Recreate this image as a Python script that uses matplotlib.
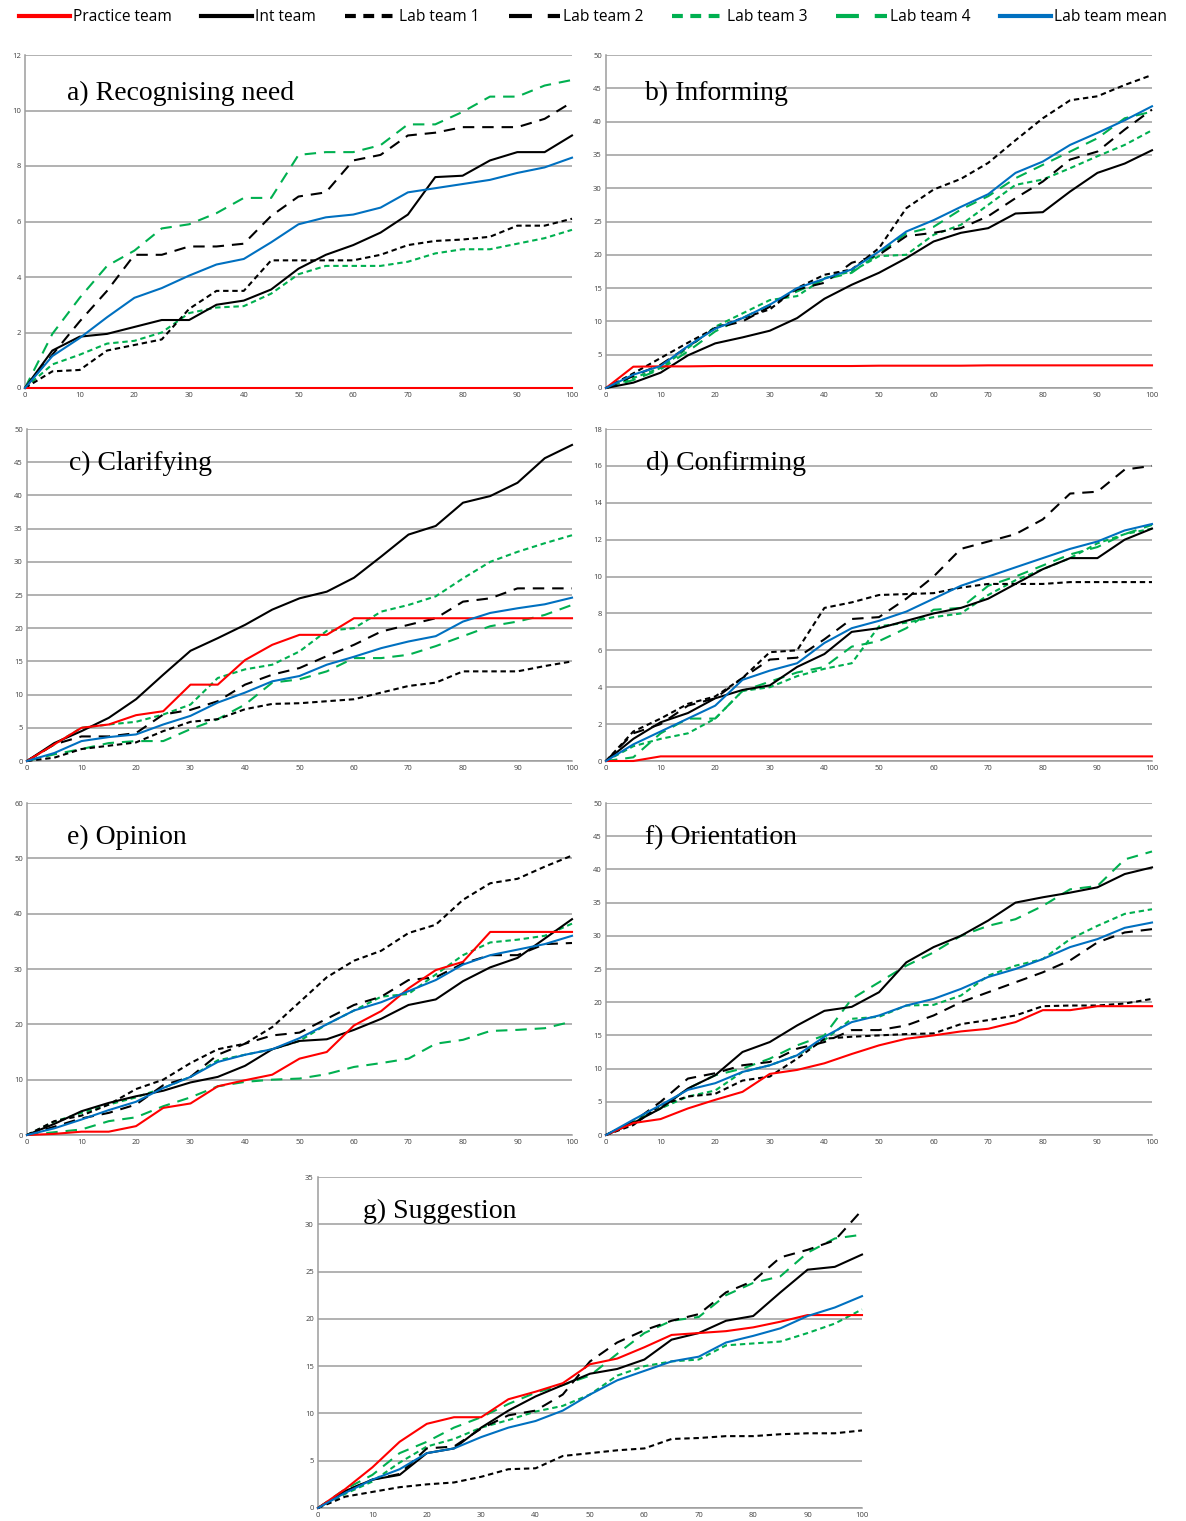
import matplotlib
matplotlib.use("Agg")
import matplotlib.pyplot as plt
from matplotlib.lines import Line2D

# Percentage of session time (x) and cumulative counts per team (y)
x_pct = [0, 5, 10, 15, 20, 25, 30, 35, 40, 45, 50, 55, 60, 65, 70, 75, 80, 85, 90, 95, 100]

series_names = ["Practice team", "Int team", "Lab team 1", "Lab team 2",
                "Lab team 3", "Lab team 4", "Lab team mean"]

# a) Recognising need
a_practice = [0] * 21
a_int = [0, 1.35, 1.85, 1.95, 2.2, 2.45, 2.45, 3.0, 3.15, 3.55, 4.3, 4.8, 5.15, 5.6, 6.25, 7.6, 7.65, 8.2, 8.5, 8.5, 9.1]
a_lab1 = [0, 0.6, 0.65, 1.35, 1.55, 1.75, 2.85, 3.5, 3.5, 4.6, 4.6, 4.6, 4.6, 4.8, 5.15, 5.3, 5.35, 5.45, 5.85, 5.85, 6.1]
a_lab2 = [0, 1.2, 2.4, 3.5, 4.8, 4.8, 5.1, 5.1, 5.2, 6.2, 6.9, 7.05, 8.2, 8.4, 9.1, 9.2, 9.4, 9.4, 9.4, 9.7, 10.3]
a_lab3 = [0, 0.85, 1.2, 1.6, 1.7, 2.0, 2.7, 2.9, 2.95, 3.4, 4.1, 4.4, 4.4, 4.4, 4.55, 4.85, 5.0, 5.0, 5.2, 5.4, 5.7]
a_lab4 = [0, 1.95, 3.25, 4.4, 4.95, 5.75, 5.9, 6.3, 6.85, 6.85, 8.4, 8.5, 8.5, 8.75, 9.5, 9.5, 9.95, 10.5, 10.5, 10.9, 11.1]
a_mean = [0, 1.15, 1.8, 2.55, 3.25, 3.6, 4.05, 4.45, 4.65, 5.25, 5.9, 6.15, 6.25, 6.5, 7.05, 7.2, 7.35, 7.5, 7.75, 7.95, 8.3]

# b) Informing
b_practice = [0, 3.2, 3.25, 3.25, 3.3, 3.3, 3.3, 3.3, 3.3, 3.3, 3.35, 3.35, 3.35, 3.35, 3.4, 3.4, 3.4, 3.4, 3.4, 3.4, 3.4]
b_int = [0, 0.8, 2.3, 4.9, 6.7, 7.6, 8.6, 10.5, 13.4, 15.5, 17.3, 19.5, 22.0, 23.3, 24.0, 26.2, 26.4, 29.5, 32.3, 33.7, 35.7]
b_lab1 = [0, 2.2, 4.5, 6.8, 9.0, 10.5, 11.8, 15.0, 17.0, 17.8, 21.0, 27.0, 29.8, 31.4, 33.8, 37.2, 40.5, 43.2, 43.8, 45.5, 47.0]
b_lab2 = [0, 1.8, 3.5, 6.2, 9.0, 10.0, 12.2, 14.8, 15.8, 18.8, 20.0, 22.8, 23.3, 24.0, 25.8, 28.5, 31.0, 34.3, 35.5, 38.8, 41.8]
b_lab3 = [0, 1.5, 3.0, 6.0, 9.2, 11.2, 13.2, 13.8, 16.5, 17.5, 19.8, 20.0, 23.0, 24.5, 27.5, 30.5, 31.3, 33.0, 34.8, 36.5, 38.7]
b_lab4 = [0, 1.2, 2.8, 5.5, 8.5, 10.5, 12.5, 14.5, 16.3, 17.3, 20.2, 23.2, 24.2, 26.8, 28.8, 31.5, 33.5, 35.5, 37.5, 40.5, 41.5]
b_mean = [0, 2.0, 3.3, 6.3, 8.9, 10.5, 12.5, 15.0, 16.4, 17.8, 20.5, 23.5, 25.2, 27.2, 29.1, 32.3, 34.0, 36.5, 38.3, 40.2, 42.3]

# c) Clarifying
c_practice = [0, 2.5, 5.0, 5.5, 6.9, 7.5, 11.5, 11.5, 15.2, 17.5, 19.0, 19.0, 21.5, 21.5, 21.5, 21.5, 21.5, 21.5, 21.5, 21.5, 21.5]
c_int = [0, 2.7, 4.5, 6.5, 9.3, 13.0, 16.6, 18.5, 20.5, 22.8, 24.5, 25.5, 27.6, 30.8, 34.1, 35.4, 38.9, 39.9, 41.9, 45.6, 47.6]
c_lab1 = [0, 0.5, 1.8, 2.3, 2.8, 4.5, 5.9, 6.3, 7.8, 8.6, 8.7, 9.0, 9.3, 10.3, 11.3, 11.8, 13.5, 13.5, 13.5, 14.3, 15.0]
c_lab2 = [0, 2.5, 3.7, 3.7, 4.2, 7.0, 7.7, 9.0, 11.5, 13.0, 14.0, 15.8, 17.5, 19.5, 20.5, 21.5, 24.0, 24.5, 26.0, 26.0, 26.0]
c_lab3 = [0, 2.5, 5.0, 5.5, 5.9, 7.0, 8.5, 12.5, 13.8, 14.5, 16.5, 19.6, 20.0, 22.5, 23.5, 24.8, 27.5, 30.0, 31.5, 32.8, 34.0]
c_lab4 = [0, 1.0, 1.8, 2.7, 3.0, 3.0, 4.8, 6.3, 8.5, 11.8, 12.3, 13.5, 15.5, 15.5, 16.0, 17.3, 18.8, 20.3, 21.0, 22.0, 23.5]
c_mean = [0, 1.2, 3.0, 3.6, 4.0, 5.5, 6.8, 8.8, 10.3, 12.0, 12.8, 14.5, 15.7, 17.0, 18.0, 18.8, 21.0, 22.3, 23.0, 23.6, 24.6]

# d) Confirming
d_practice = [0, 0, 0.25, 0.25, 0.25, 0.25, 0.25, 0.25, 0.25, 0.25, 0.25, 0.25, 0.25, 0.25, 0.25, 0.25, 0.25, 0.25, 0.25, 0.25, 0.25]
d_int = [0, 1.2, 2.1, 2.6, 3.4, 3.85, 4.1, 5.1, 5.8, 7.0, 7.2, 7.6, 8.0, 8.3, 8.8, 9.6, 10.4, 11.0, 11.0, 12.0, 12.6]
d_lab1 = [0, 1.6, 2.3, 3.1, 3.5, 4.5, 5.9, 6.0, 8.3, 8.6, 9.0, 9.05, 9.1, 9.4, 9.6, 9.6, 9.6, 9.7, 9.7, 9.7, 9.7]
d_lab2 = [0, 1.5, 2.0, 3.0, 3.4, 4.5, 5.5, 5.6, 6.6, 7.7, 7.8, 8.8, 10.0, 11.5, 11.9, 12.3, 13.1, 14.5, 14.6, 15.8, 16.0]
d_lab3 = [0, 0.8, 1.2, 1.5, 2.3, 3.8, 4.0, 4.6, 5.0, 5.3, 7.3, 7.5, 7.8, 8.0, 9.0, 9.8, 10.4, 11.0, 11.8, 12.3, 12.6]
d_lab4 = [0, 0.2, 1.5, 2.3, 2.3, 3.8, 4.3, 4.8, 5.1, 6.2, 6.5, 7.2, 8.2, 8.3, 9.5, 10.0, 10.6, 11.2, 11.6, 12.3, 12.8]
d_mean = [0, 0.9, 1.6, 2.3, 3.0, 4.4, 4.9, 5.3, 6.4, 7.2, 7.6, 8.1, 8.8, 9.5, 10.0, 10.5, 11.0, 11.5, 11.9, 12.5, 12.85]

# e) Opinion
e_practice = [0, 0.2, 0.6, 0.6, 1.6, 4.9, 5.7, 8.8, 9.9, 10.9, 13.8, 15.0, 19.8, 22.4, 26.5, 29.8, 31.3, 36.7, 36.7, 36.7, 36.7]
e_int = [0, 2.0, 4.3, 5.8, 7.0, 8.0, 9.5, 10.5, 12.5, 15.5, 17.0, 17.3, 19.0, 21.0, 23.5, 24.5, 27.8, 30.3, 32.0, 35.5, 39.0]
e_lab1 = [0, 2.5, 3.5, 5.5, 8.3, 10.0, 13.0, 15.5, 16.5, 19.5, 24.0, 28.5, 31.5, 33.3, 36.5, 38.0, 42.5, 45.5, 46.3, 48.5, 50.5]
e_lab2 = [0, 1.5, 3.0, 4.0, 5.5, 9.0, 10.5, 14.5, 16.5, 18.0, 18.5, 21.0, 23.5, 25.0, 28.0, 28.5, 31.0, 32.5, 32.5, 34.5, 34.7]
e_lab3 = [0, 2.4, 4.0, 5.5, 6.8, 8.5, 10.5, 13.5, 14.5, 15.5, 17.0, 20.0, 22.5, 25.0, 25.5, 29.0, 32.5, 34.8, 35.3, 36.0, 38.2]
e_lab4 = [0, 0.5, 1.0, 2.5, 3.2, 5.2, 6.8, 8.8, 9.6, 10.0, 10.2, 11.0, 12.3, 13.0, 13.8, 16.5, 17.2, 18.8, 19.0, 19.3, 20.5]
e_mean = [0, 1.2, 2.8, 4.5, 6.0, 8.5, 10.5, 13.2, 14.5, 15.5, 17.5, 20.0, 22.5, 24.0, 26.0, 28.0, 30.8, 32.5, 33.5, 34.5, 36.0]

# f) Orientation
f_practice = [0, 1.8, 2.4, 4.0, 5.3, 6.5, 9.2, 9.8, 10.8, 12.2, 13.5, 14.5, 15.0, 15.6, 16.0, 17.0, 18.8, 18.8, 19.4, 19.4, 19.4]
f_int = [0, 1.8, 4.0, 7.0, 9.0, 12.5, 14.0, 16.5, 18.7, 19.3, 21.5, 26.0, 28.3, 30.0, 32.3, 35.0, 35.8, 36.5, 37.3, 39.3, 40.3]
f_lab1 = [0, 1.5, 4.5, 5.8, 6.2, 8.2, 8.8, 11.5, 14.5, 14.8, 15.0, 15.2, 15.3, 16.7, 17.3, 18.0, 19.4, 19.5, 19.5, 19.8, 20.5]
f_lab2 = [0, 2.0, 5.0, 8.5, 9.3, 10.5, 11.0, 13.0, 14.0, 15.8, 15.8, 16.5, 18.0, 20.0, 21.5, 23.0, 24.5, 26.3, 29.0, 30.5, 31.0]
f_lab3 = [0, 2.0, 4.0, 5.8, 6.7, 9.5, 10.5, 12.0, 14.3, 17.5, 17.8, 19.5, 19.6, 21.0, 24.0, 25.5, 26.5, 29.5, 31.5, 33.3, 34.0]
f_lab4 = [0, 2.0, 4.0, 7.0, 9.0, 10.0, 11.5, 13.5, 15.0, 20.5, 23.0, 25.5, 27.5, 30.0, 31.5, 32.5, 34.5, 37.0, 37.5, 41.5, 42.7]
f_mean = [0, 2.3, 4.5, 6.8, 7.8, 9.5, 10.5, 12.0, 14.8, 17.0, 18.0, 19.5, 20.5, 22.0, 23.8, 25.0, 26.5, 28.3, 29.5, 31.2, 32.0]

# g) Suggestion
g_practice = [0, 2.0, 4.3, 7.0, 8.9, 9.6, 9.6, 11.5, 12.3, 13.2, 15.2, 15.8, 17.0, 18.3, 18.5, 18.7, 19.1, 19.7, 20.4, 20.4, 20.4]
g_int = [0, 1.8, 3.0, 3.5, 5.8, 6.3, 8.5, 10.3, 11.8, 13.0, 14.2, 14.7, 15.7, 17.8, 18.5, 19.8, 20.3, 22.8, 25.2, 25.5, 26.8]
g_lab1 = [0, 1.2, 1.7, 2.2, 2.5, 2.7, 3.3, 4.1, 4.2, 5.5, 5.8, 6.1, 6.3, 7.3, 7.4, 7.6, 7.6, 7.8, 7.9, 7.9, 8.2]
g_lab2 = [0, 1.8, 3.0, 3.6, 6.3, 6.5, 8.4, 9.8, 10.3, 12.0, 15.5, 17.5, 18.8, 19.8, 20.5, 22.8, 24.0, 26.5, 27.3, 28.3, 31.5]
g_lab3 = [0, 1.5, 2.8, 4.8, 6.5, 7.3, 8.5, 9.3, 10.2, 10.8, 12.0, 14.0, 15.0, 15.5, 15.7, 17.2, 17.4, 17.6, 18.5, 19.5, 21.0]
g_lab4 = [0, 2.0, 3.5, 5.8, 7.0, 8.5, 9.6, 11.0, 12.2, 13.0, 14.0, 16.3, 18.5, 19.8, 20.2, 22.5, 23.8, 24.5, 27.0, 28.5, 28.9]
g_mean = [0, 1.6, 3.0, 4.1, 5.8, 6.3, 7.5, 8.5, 9.2, 10.3, 12.0, 13.5, 14.5, 15.5, 16.0, 17.5, 18.2, 19.0, 20.3, 21.2, 22.4]

panel_titles = ["a) Recognising need", "b) Informing", "c) Clarifying", "d) Confirming",
                "e) Opinion", "f) Orientation", "g) Suggestion"]
panel_ymax = [12, 50, 50, 18, 60, 50, 35]
panel_ystep = [2, 5, 5, 2, 10, 5, 5]
panel_series = [
    [a_practice, a_int, a_lab1, a_lab2, a_lab3, a_lab4, a_mean],
    [b_practice, b_int, b_lab1, b_lab2, b_lab3, b_lab4, b_mean],
    [c_practice, c_int, c_lab1, c_lab2, c_lab3, c_lab4, c_mean],
    [d_practice, d_int, d_lab1, d_lab2, d_lab3, d_lab4, d_mean],
    [e_practice, e_int, e_lab1, e_lab2, e_lab3, e_lab4, e_mean],
    [f_practice, f_int, f_lab1, f_lab2, f_lab3, f_lab4, f_mean],
    [g_practice, g_int, g_lab1, g_lab2, g_lab3, g_lab4, g_mean],
]

RED = "#FF0000"
BLACK = "#000000"
GREEN = "#00B050"
BLUE = "#0070C0"
SHORT = (0, (2.6, 1.8))
LONG = (0, (5.5, 3.8))
styles = [
    dict(color=RED, linestyle="-"),
    dict(color=BLACK, linestyle="-"),
    dict(color=BLACK, linestyle=SHORT),
    dict(color=BLACK, linestyle=LONG),
    dict(color=GREEN, linestyle=SHORT),
    dict(color=GREEN, linestyle=LONG),
    dict(color=BLUE, linestyle="-"),
]
draw_order = [4, 5, 2, 3, 1, 0, 6]

W, H = 1186, 1521
fig = plt.figure(figsize=(W / 100, H / 100), dpi=100)

# axes rectangles in pixel coordinates: left, right, top, bottom
boxes_px = [
    (25, 572, 55, 388), (606, 1152, 55, 388),
    (27, 572, 429, 761), (606, 1152, 429, 761),
    (27, 572, 803, 1135), (606, 1152, 803, 1135),
    (318, 862, 1177, 1508),
]
title_pos = [(0.077, 0.885), (0.071, 0.885), (0.077, 0.895), (0.073, 0.895),
             (0.073, 0.895), (0.071, 0.895), (0.083, 0.895)]

GRID = "#9C9C9C"
TICK = "#404040"

for i, (l, r, t, b) in enumerate(boxes_px):
    ax = fig.add_axes([l / W, 1 - b / H, (r - l) / W, (b - t) / H])
    ymax = panel_ymax[i]
    ax.set_xlim(0, 100)
    ax.set_ylim(0, ymax)
    ax.set_xticks(range(0, 101, 10))
    ax.set_yticks(range(0, ymax + 1, panel_ystep[i]))
    ax.tick_params(length=0, labelsize=5.5, labelcolor=TICK, pad=3)
    for lab in ax.get_xticklabels() + ax.get_yticklabels():
        lab.set_family("Open Sans")
    ax.grid(axis="y", color=GRID, linewidth=1.1)
    ax.set_axisbelow(True)
    for side in ("top", "right"):
        ax.spines[side].set_visible(False)
    ax.spines["left"].set_color(GRID)
    ax.spines["bottom"].set_color(GRID)
    ax.spines["left"].set_linewidth(1.1)
    ax.spines["bottom"].set_linewidth(1.1)
    data = panel_series[i]
    for k in draw_order:
        ax.plot(x_pct, data[k], linewidth=1.5, clip_on=False, zorder=3, **styles[k])
    ax.text(title_pos[i][0], title_pos[i][1], panel_titles[i], transform=ax.transAxes,
            fontsize=20, family="Liberation Serif", va="center", ha="left", zorder=5)

handles = [Line2D([], [], linewidth=3, **styles[k]) for k in range(7)]
fig.legend(handles, series_names, loc="upper center", bbox_to_anchor=(0.5, 1.003),
           ncol=7, frameon=False, handlelength=3.3, handletextpad=0.2,
           columnspacing=1.85, prop={"family": "Open Sans", "size": 11.2})

fig.savefig("out.png", dpi=100)
